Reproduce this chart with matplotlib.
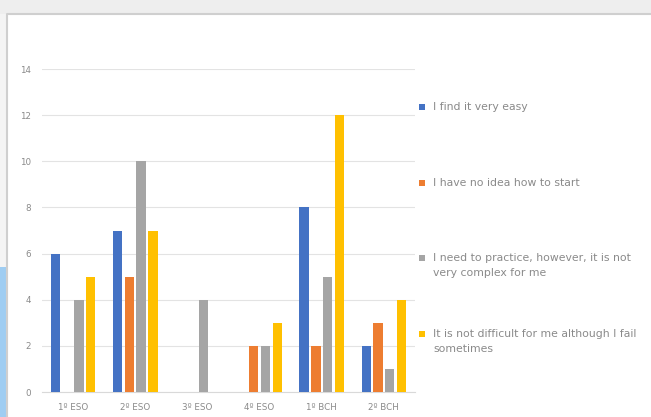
import matplotlib
matplotlib.use("Agg")
import matplotlib.pyplot as plt
from matplotlib.patches import Rectangle
import numpy as np

categories = ["1º ESO", "2º ESO", "3º ESO", "4º ESO", "1º BCH", "2º BCH"]
series_names = [
    "I find it very easy",
    "I have no idea how to start",
    "I need to practice, however, it is not\nvery complex for me",
    "It is not difficult for me although I fail\nsometimes",
]
very_easy = [6, 7, 0, 0, 8, 2]
no_idea = [0, 5, 0, 2, 2, 3]
need_practice = [4, 10, 4, 2, 5, 1]
not_difficult = [5, 7, 0, 3, 12, 4]
y_ticks = [0, 2, 4, 6, 8, 10, 12, 14]

values = [very_easy, no_idea, need_practice, not_difficult]
colors = ["#4472C4", "#ED7D31", "#A5A5A5", "#FFC000"]

W, H = 651, 417
fig = plt.figure(figsize=(W / 100, H / 100), dpi=100)
fig.patch.set_facecolor("white")

# outer frame, top band and left strip
fig.patches.append(Rectangle((0, 1 - 14 / H), 1, 14 / H, transform=fig.transFigure,
                             facecolor="#eeeeee", edgecolor="none", zorder=0))
fig.patches.append(Rectangle((0, 0), 7 / W, 1 - 14 / H, transform=fig.transFigure,
                             facecolor="#f4f4f4", edgecolor="none", zorder=0))
fig.patches.append(Rectangle((0, 0), 7 / W, 150 / H, transform=fig.transFigure,
                             facecolor="#9fcdf2", edgecolor="none", zorder=0))
fig.lines.append(plt.Line2D([7 / W, 7 / W, 1], [0, 1 - 14 / H, 1 - 14 / H],
                            transform=fig.transFigure, color="#cfcfcf", lw=1.5))

ax = fig.add_axes([42 / W, 25 / H, 373 / W, 323 / H])
x = np.arange(len(categories))
step = 0.19
width = 0.15
for i, (vals, col) in enumerate(zip(values, colors)):
    ax.bar(x + (i - 1.5) * step, vals, width=width, color=col, zorder=3)

ax.set_xlim(-0.5, len(categories) - 0.5)
ax.set_ylim(0, 14)
ax.set_yticks(y_ticks)
ax.set_yticklabels([str(t) for t in y_ticks])
ax.set_xticks(x)
ax.set_xticklabels(categories)
ax.tick_params(axis="both", length=0, labelsize=6.3, labelcolor="#8a8a8a")
ax.tick_params(axis="y", pad=8)
ax.tick_params(axis="x", pad=8)
ax.grid(axis="y", color="#e3e3e3", lw=0.8, zorder=0)
for s in ["top", "right", "left"]:
    ax.spines[s].set_visible(False)
ax.spines["bottom"].set_color("#d9d9d9")
ax.set_facecolor("white")

# legend on the right
legend_y = [107, 183, 258, 334]
line_gap = 15.5
for name, col, yp in zip(series_names, colors, legend_y):
    fig.patches.append(Rectangle((419 / W, 1 - (yp + 3) / H), 6 / W, 6 / H,
                                 transform=fig.transFigure, facecolor=col,
                                 edgecolor="none"))
    for k, line in enumerate(name.split("\n")):
        fig.text(433 / W, 1 - (yp + k * line_gap) / H, line, fontsize=7.8,
                 color="#8a8a8a", va="center", ha="left")

fig.savefig("out.png", dpi=100)
